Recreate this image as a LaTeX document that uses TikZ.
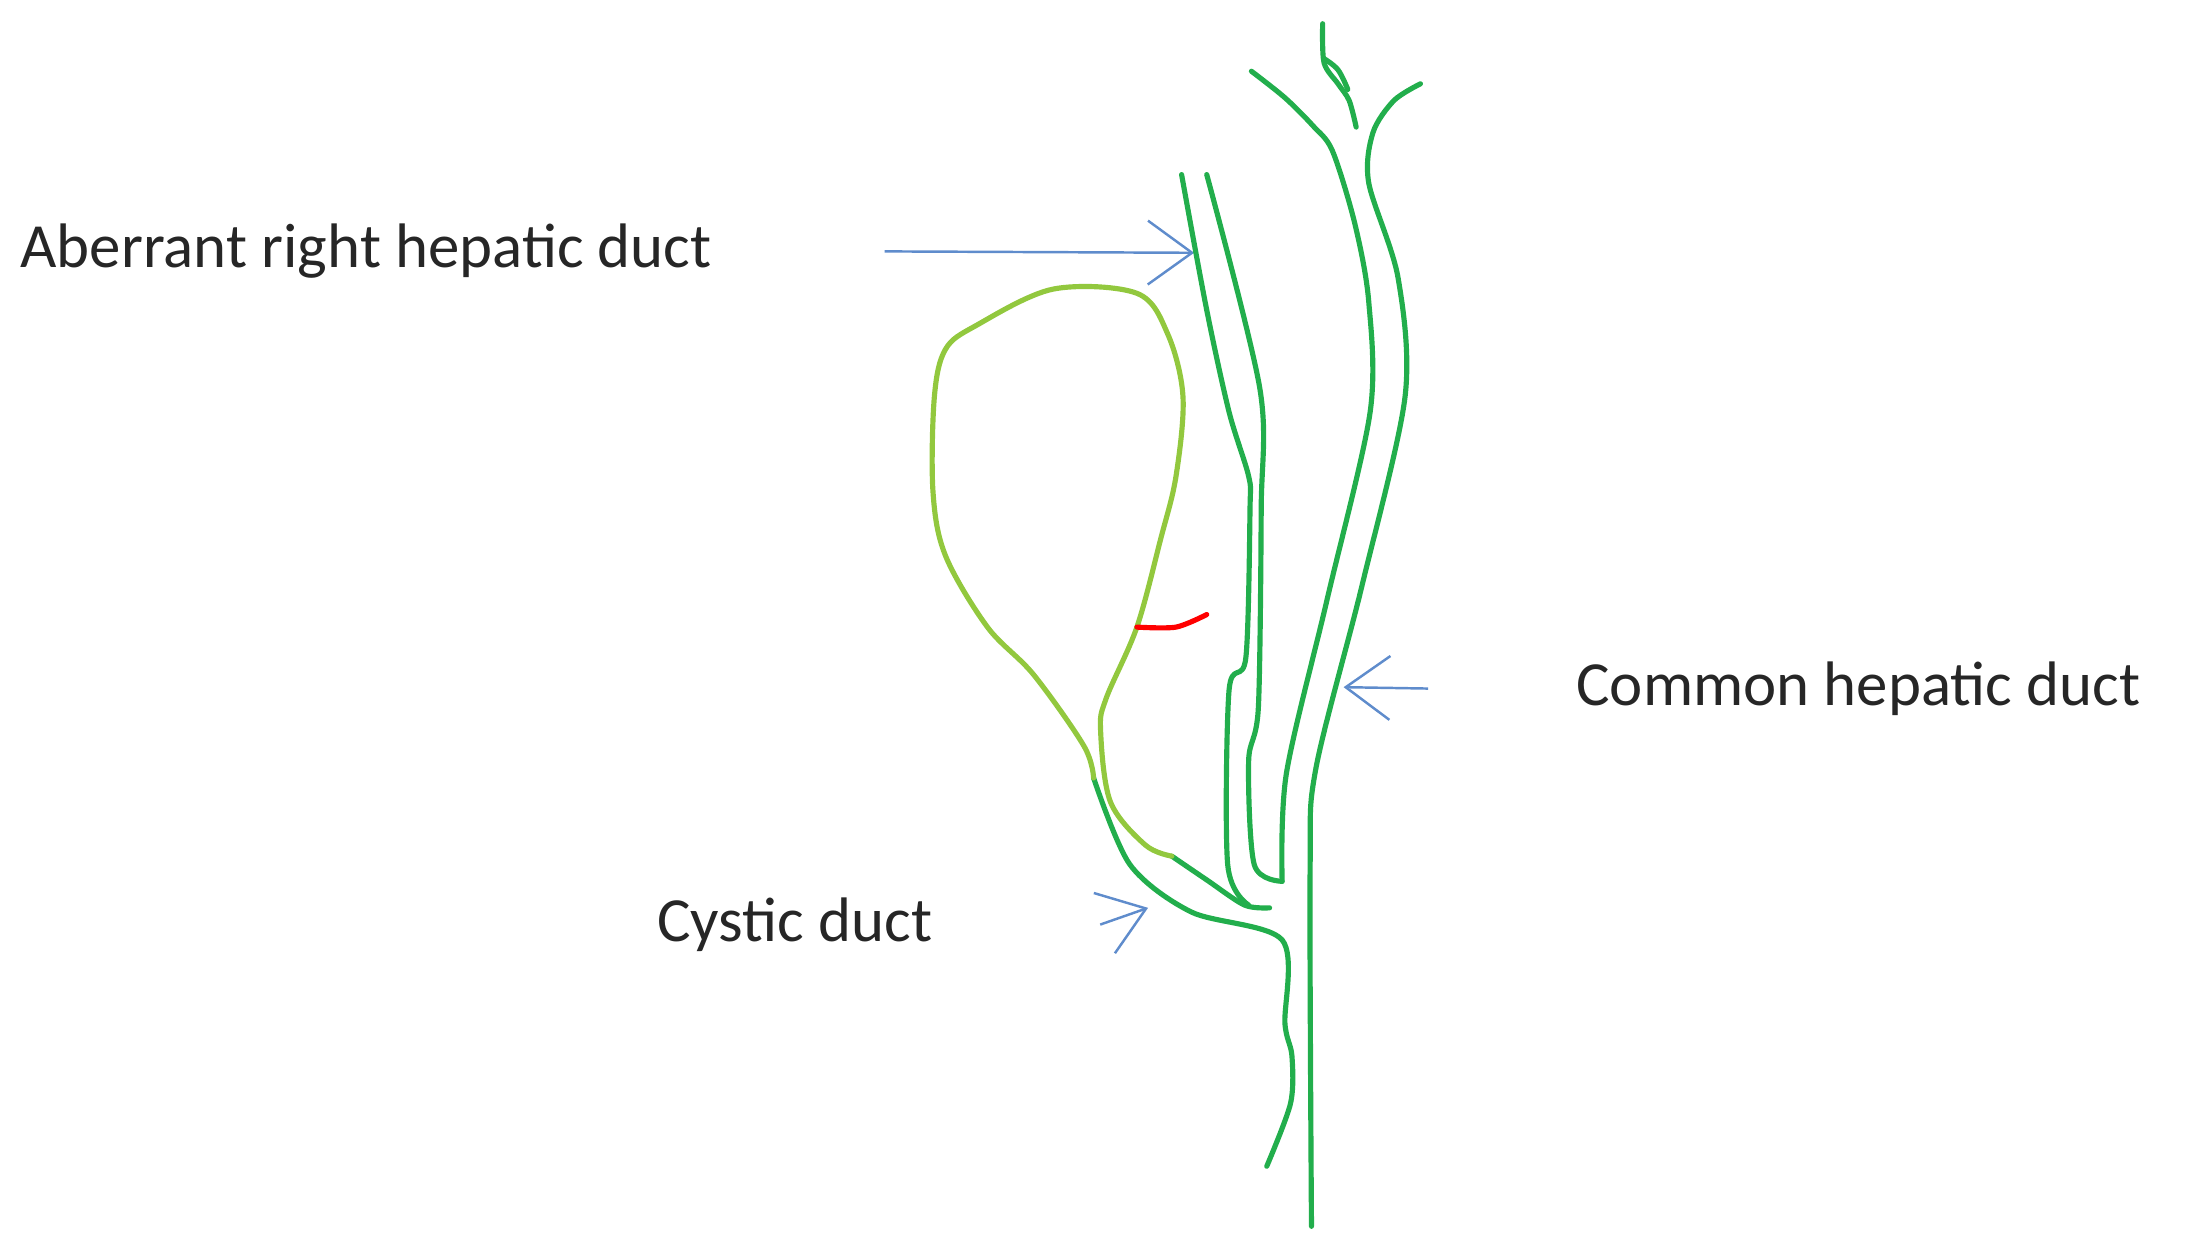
\documentclass[tikz,border=0pt]{standalone}
\usepackage{fontspec}
\setmainfont{Carlito}
\usetikzlibrary{arrows.meta}
\definecolor{duct}{RGB}{34,174,76}
\definecolor{gb}{RGB}{146,200,62}
\definecolor{arr}{RGB}{95,140,204}
\begin{document}
\begin{tikzpicture}[x=0.01cm,y=-0.01cm,
  duct/.style={draw=duct,line width=1.05pt,line cap=round,line join=round},
  gb/.style={draw=gb,line width=1.05pt,line cap=round,line join=round},
  lab/.style={font=\fontsize{12.8}{14}\selectfont,text=black!85,inner sep=0pt,anchor=west},
  pt/.style={draw=arr,line width=0.5pt,-{Straight Barb[length=9pt,width=13pt,line width=0.5pt]}}]
\useasboundingbox (0,0) rectangle (1568,891);
% labels
\node[lab] (ab) at (14,180) {Aberrant right hepatic duct};
\node[lab] (ch) at (1128,493) {Common hepatic duct};
\node[lab] (cy) at (470,662) {Cystic duct};
\coordinate (abT) at (855,181);
\coordinate (chT) at (962,492);
\coordinate (cyT) at (822,650);
\draw[pt] ([xshift=35]ab.east) -- (abT);
\draw[pt] ([xshift=-30]ch.west) -- (chT);
\draw[pt] ([xshift=34]cy.east) -- (cyT);
% common hepatic duct
\draw[duct] plot[smooth,tension=0.5] coordinates {(896,51)(920,70)(940,90)(954,108)(970,160)(980,216)(981,295)(950,430)(921,554)(918,631)};
\draw[duct] plot[smooth,tension=0.5] coordinates {(1017,60)(998,72)(983,95)(980,131)(1001,199)(1006,284)(975,420)(942,551)(938,625)(939,878)};
\draw[duct] plot[smooth,tension=0.5] coordinates {(947,17)(948,45)(958,60)(966,72)(971,91)};
\draw[duct] plot[smooth,tension=0.6] coordinates {(948,42)(958,50)(965,64)};
% aberrant duct
\draw[duct] plot[smooth,tension=0.5] coordinates {(846,125)(864,222)(880,295)(894,341)(895,364)(892,471)(880,494)(879,619)(894,648)};
\draw[duct] plot[smooth,tension=0.5] coordinates {(864,125)(902,278)(903,364)(901,506)(894,545)(898,619)(918,631)};
% cystic duct
\draw[duct] plot[smooth,tension=0.5] coordinates {(783,557)(809,619)(853,653)(918,673)(920,733)(925,756)(924,790)(907,835)};
\draw[duct] plot[smooth,tension=0.5] coordinates {(839,613)(864,630)(891,648)(909,650)};
% gallbladder
\draw[gb] plot[smooth,tension=0.55] coordinates {(783,557)(776,534)(740,483)(707,449)(677,398)(668,352)(669,284)(677,250)(699,233)(754,207)(814,210)(836,239)(847,284)(842,341)(831,386)(814,449)(792,500)(788,523)(795,574)(820,605)(839,613)};
\draw[red,line width=1.05pt,line cap=round] plot[smooth] coordinates {(814,449)(842,449)(864,440)};
\end{tikzpicture}
\end{document}
